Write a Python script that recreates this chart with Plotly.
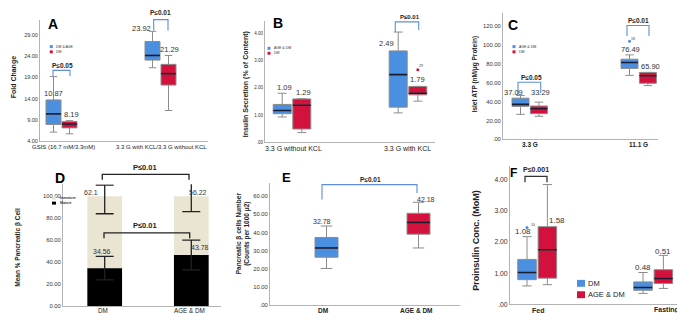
import plotly.graph_objects as go

W, H = 685, 313
FONT = "Arial, Liberation Sans, sans-serif"
BLUE = "#4A8FE0"
RED = "#D3113D"
BEIGE = "#EAE4D3"
BRK_BLUE = "#5E8FD8"
EDGE = "#8c8c8c"
MED = "#1b1b2f"
TXT = "#333333"

# ---------------- data (box stats: lower whisker, Q1, median, Q3, upper whisker) ----------------
# A: Fold change
A_cats = ["GSIS (16.7 mM/3.3mM)", "3.3 G with KCL/3.3 G without KCL"]
A_dmage = [[6.1, 7.9, 10.4, 13.7, 19.2], [21.3, 23.1, 24.2, 27.5, 29.9]]
A_dm = [[5.7, 7.1, 8.0, 8.6, 8.8], [11.2, 17.2, 19.9, 22.1, 24.2]]
A_dmage_lab = ["10.87", "23.92"]
A_dm_lab = ["8.19", "21.29"]

# B: Insulin secretion
B_cats = ["3.3 G without KCL", "3.3 G with KCL"]
B_agedm = [[0.93, 1.05, 1.17, 1.39, 1.80], [1.08, 1.29, 2.48, 3.35, 4.04]]
B_dm = [[0.36, 0.49, 1.36, 1.59, 1.60], [1.51, 1.74, 1.80, 2.05, 2.05]]
B_agedm_lab = ["1.09", "2.49"]
B_dm_lab = ["1.29", "1.79"]
B_outlier = 2.66
B_outlier_id = "29"

# C: Islet ATP
C_cats = ["3.3 G", "11.1 G"]
C_agedm = [[26.6, 35.0, 37.1, 43.7, 46.6], [67.9, 75.2, 81.5, 85.0, 89.6]]
C_dm = [[24.5, 27.3, 32.5, 35.4, 39.5], [57.0, 59.5, 67.5, 71.0, 71.0]]
C_agedm_lab = ["37.09", "76.49"]
C_dm_lab = ["33.29", "65.90"]
C_outlier = 103.9
C_outlier_id = "18"

# D: Mean % pancreatic beta cell
D_cats = ["DM", "AGE & DM"]
D_total = [100, 100]
D_mature = [34.5, 46.5]
D_mature_err = [10.7, 13.5]
D_imm_top = [97.0, 99.0]
D_imm_err = [13.0, 13.0]
D_imm_lab = ["62.1", "56.22"]
D_mat_lab = ["34.56", "43.78"]

# E: beta cell number
E_cats = ["DM", "AGE & DM"]
E_dm = [20.2, 26.4, 31.5, 37.3, 43.6]
E_agedm = [31.5, 39.1, 45.6, 50.6, 56.7]
E_lab = ["32.78", "42.18"]

# F: Proinsulin
F_cats = ["Fed", "Fasting"]
F_dm = [[0.59, 0.79, 1.02, 1.44, 2.17], [0.35, 0.45, 0.54, 0.72, 1.02]]
F_agedm = [[0.63, 0.84, 1.75, 2.49, 3.84], [0.51, 0.67, 0.83, 1.11, 1.57]]
F_dm_lab = ["1.08", "0.48"]
F_agedm_lab = ["1.58", "0.51"]
F_outlier = 2.46
F_outlier_id = "10"

# ---------------- layout geometry (pixels) ----------------
GEO = {
    "A": dict(xs=(32, 200), ys=(12, 134.3), yr=(4, 32.6), cat=(21.5, 120.5), off=8.0, bw=15),
    "B": dict(xs=(257, 427), ys=(12.7, 135.7), yr=(0, 4.46), cat=(27, 143), off=9.8, bw=18),
    "C": dict(xs=(495, 650), ys=(5, 132.7), yr=(0, 134), cat=(26.7, 135.7), off=9.2, bw=17),
    "D": dict(xs=(55, 213), ys=(178, 301), yr=(0, 110.8), cat=(41.7, 128.3), off=0, bw=34.7),
    "E": dict(xs=(262, 452), ys=(176.7, 300), yr=(0, 67.3), cat=(56.5, 148.5), off=0, bw=23),
    "F": dict(xs=(502, 672), ys=(160, 299.2), yr=(0, 4.42), cat=(27.2, 143.2), off=10.2, bw=18.5),
}
AX = {"A": ("x", "y"), "B": ("x2", "y2"), "C": ("x3", "y3"),
      "D": ("x4", "y4"), "E": ("x5", "y5"), "F": ("x6", "y6")}

fig = go.Figure()


def add_boxes(panel, stats, positions, color):
    g = GEO[panel]
    xa, ya = AX[panel]
    lf, q1, med, q3, uf = zip(*stats)
    fig.add_trace(go.Box(x=list(positions), lowerfence=list(lf), q1=list(q1), median=list(med),
                         q3=list(q3), upperfence=list(uf), width=g["bw"], fillcolor=color,
                         line=dict(color=EDGE, width=1), whiskerwidth=0.5, boxpoints=False,
                         xaxis=xa, yaxis=ya, hoverinfo="skip", showlegend=False))
    xs, ys = [], []
    for p, m in zip(positions, med):
        xs += [p - g["bw"] / 2, p + g["bw"] / 2, None]
        ys += [m, m, None]
    fig.add_trace(go.Scatter(x=xs, y=ys, mode="lines", line=dict(color=MED, width=1.6),
                             xaxis=xa, yaxis=ya, hoverinfo="skip", showlegend=False))


def left(panel):
    g = GEO[panel]
    return [c - g["off"] for c in g["cat"]]


def right(panel):
    g = GEO[panel]
    return [c + g["off"] for c in g["cat"]]


def add_outlier(panel, xpos, val, color):
    xa, ya = AX[panel]
    fig.add_trace(go.Scatter(x=[xpos], y=[val], mode="markers",
                             marker=dict(color=color, size=3), xaxis=xa, yaxis=ya,
                             hoverinfo="skip", showlegend=False))


add_boxes("A", A_dmage, left("A"), BLUE)
add_boxes("A", A_dm, right("A"), RED)
add_boxes("B", B_agedm, left("B"), BLUE)
add_boxes("B", B_dm, right("B"), RED)
add_outlier("B", right("B")[1], B_outlier, RED)
add_boxes("C", C_agedm, left("C"), BLUE)
add_boxes("C", C_dm, right("C"), RED)
add_outlier("C", left("C")[1], C_outlier, BLUE)
add_boxes("E", [E_dm], [GEO["E"]["cat"][0]], BLUE)
add_boxes("E", [E_agedm], [GEO["E"]["cat"][1]], RED)
add_boxes("F", F_dm, left("F"), BLUE)
add_boxes("F", F_agedm, right("F"), RED)
add_outlier("F", left("F")[0], F_outlier, BLUE)

# D stacked-look bars
fig.add_trace(go.Bar(x=list(GEO["D"]["cat"]), y=D_total, width=GEO["D"]["bw"], marker=dict(color=BEIGE, line=dict(width=0)),
                     xaxis="x4", yaxis="y4", hoverinfo="skip", showlegend=False))
fig.add_trace(go.Bar(x=list(GEO["D"]["cat"]), y=D_mature, width=GEO["D"]["bw"], marker=dict(color="black", line=dict(width=0)),
                     xaxis="x4", yaxis="y4", hoverinfo="skip", showlegend=False))
for yv, ev in ((D_imm_top, D_imm_err), (D_mature, D_mature_err)):
    fig.add_trace(go.Scatter(x=list(GEO["D"]["cat"]), y=yv, mode="markers",
                             marker=dict(color="rgba(0,0,0,0)", size=1),
                             error_y=dict(type="data", array=ev, color="#222", thickness=1.3, width=9),
                             xaxis="x4", yaxis="y4", hoverinfo="skip", showlegend=False))

# ---------------- axes ----------------
YTICKS = {
    "A": ([4, 9, 14, 19, 24, 29], ["4.00", "9.00", "14.00", "19.00", "24.00", "29.00"], 5.5),
    "B": ([0, 1, 2, 3, 4], [".00", "1.00", "2.00", "3.00", "4.00"], 4.5),
    "C": ([0, 20, 40, 60, 80, 100, 120], [".00", "20.00", "40.00", "60.00", "80.00", "100.00", "120.00"], 5.8),
    "D": ([0, 20, 40, 60, 80, 100], ["0.00", "20.00", "40.00", "60.00", "80.00", "100.00"], 5.8),
    "E": ([0, 10, 20, 30, 40, 50, 60], [".00", "10.00", "20.00", "30.00", "40.00", "50.00", "60.00"], 5.8),
    "F": ([0, 1, 2, 3, 4], [".00", "1.00", "2.00", "3.00", "4.00"], 6.8),
}
# category label text positions (pixels), size, bold
XLAB = {
    "A": (A_cats, [(55, 140), (153, 140)], 6, False),
    "B": (B_cats, [(285, 142.3), (400, 142.3)], 7, False),
    "C": (C_cats, [(521.7, 138), (630, 138)], 6.5, True),
    "D": (D_cats, [(95, 305.3), (181.7, 305.3)], 6.3, False),
    "E": (E_cats, [(315, 305.3), (408.3, 305.3)], 6.5, True),
    "F": (F_cats, [(530, 305), (658.3, 305)], 7, True),
}

layout_axes = {}
for p, (xa, ya) in AX.items():
    g = GEO[p]
    xkey = "xaxis" if xa == "x" else "xaxis" + xa[1:]
    ykey = "yaxis" if ya == "y" else "yaxis" + ya[1:]
    layout_axes[xkey] = dict(
        domain=[g["xs"][0] / W, g["xs"][1] / W], range=[0, g["xs"][1] - g["xs"][0]],
        anchor=ya, showline=True, linecolor="#b3b3b3", linewidth=1, ticks="",
        showgrid=False, zeroline=False, showticklabels=False, fixedrange=True)
    tv, tt, yfs = YTICKS[p]
    layout_axes[ykey] = dict(
        domain=[1 - g["ys"][1] / H, 1 - g["ys"][0] / H], range=list(g["yr"]),
        anchor=xa, showline=True, linecolor="#b3b3b3", linewidth=1, ticks="",
        showgrid=False, zeroline=False, tickvals=tv, ticktext=tt,
        tickfont=dict(size=yfs, color="#333", family=FONT), fixedrange=True)

# ---------------- annotations & shapes (pixel positions) ----------------
anns = []
shapes = []


def txt(x, y, s, size=7, bold=False, color=TXT, angle=0, xanchor="center"):
    anns.append(dict(x=x / W, y=1 - y / H, xref="paper", yref="paper", text=("<b>%s</b>" % s) if bold else s,
                     showarrow=False, xanchor=xanchor, yanchor="middle", textangle=angle,
                     font=dict(size=size, color=color, family=FONT)))


def bracket(x0, x1, ytop, yl, yr, color, w=1.1):
    path = "M %f,%f L %f,%f L %f,%f L %f,%f" % (x0 / W, 1 - yl / H, x0 / W, 1 - ytop / H,
                                                x1 / W, 1 - ytop / H, x1 / W, 1 - yr / H)
    shapes.append(dict(type="path", path=path, xref="paper", yref="paper",
                       line=dict(color=color, width=w)))


def square(x0, y0, x1, y1, color):
    shapes.append(dict(type="rect", x0=x0 / W, x1=x1 / W, y0=1 - y1 / H, y1=1 - y0 / H,
                       xref="paper", yref="paper", fillcolor=color, line=dict(width=0)))


# category labels
for p, (cats, pos, fs, bold) in XLAB.items():
    for c, (x, y) in zip(cats, pos):
        txt(x, y, c, fs, bold, "#222")

# panel letters
for L, (x, y, s) in {"A": (45, 16, 14), "B": (270, 15, 14), "C": (505, 17, 14),
                     "D": (52, 172, 14), "E": (278, 171, 13), "F": (505, 167, 12)}.items():
    txt(x, y, L, size=s, bold=True, color="black")

# axis titles
txt(6, 70, "Fold Change", 7, True, "#222", -90)
txt(238, 77, "Insulin Secretion (% of Content)", 7, True, "#222", -90)
txt(467, 67, "Islet ATP (nM/μg Protein)", 6.5, True, "#222", -90)
txt(10, 242, "Mean % Pancreatic β Cell", 6.5, True, "#222", -90)
txt(234.5, 228, "Pancreatic β cells Number<br>(Counts per 1000 μ2)", 6.5, True, "#222", -90)
txt(468, 235, "Proinsulin Conc. (MoM)", 9, True, "#222", -90)

# value labels
for s, (x, y) in zip(A_dmage_lab + A_dm_lab, [(45.5, 86), (133.7, 20.7), (64, 107.3), (161.7, 42.3)]):
    txt(x, y, s, 7.5)
for s, (x, y) in zip(B_agedm_lab + B_dm_lab, [(276.7, 80), (378, 36), (295.7, 85), (409, 71.7)]):
    txt(x, y, s, 7.5)
for s, (x, y) in zip(C_agedm_lab + C_dm_lab, [(505, 85), (622, 41.7), (532.5, 85), (642, 59.3)]):
    txt(x, y, s, 7.5)
for s, (x, y) in zip(D_imm_lab + D_mat_lab, [(82.7, 186.7), (190, 186.7), (94.3, 245.7), (191.7, 242.3)]):
    txt(x, y, s, 7)
for s, (x, y) in zip(E_lab, [(314.3, 216), (418.3, 193.3)]):
    txt(x, y, s, 7)
for s, (x, y) in zip(F_dm_lab + F_agedm_lab, [(515, 225.7), (635, 261.7), (549, 214.3), (655, 245.7)]):
    txt(x, y, s, 8)

# outlier ids
txt(413, 59, B_outlier_id, 3.5)
txt(625, 31, C_outlier_id, 3.5)
txt(525, 219, F_outlier_id, 3.5)

# brackets and p-values
bracket(45, 62, 63, 69, 69, BRK_BLUE)
txt(54, 58.5, "P≤0.05", 6.5, True, "#222")
bracket(145.7, 160, 11.7, 22.7, 22.7, BRK_BLUE)
txt(152.5, 5, "P≤0.01", 6.5, True, "#222")
bracket(387.3, 410.7, 14, 24.3, 22.3, BRK_BLUE)
txt(402, 9.5, "P≤0.01", 6, True, "#222")
bracket(510, 532.7, 75, 88.3, 85.7, BRK_BLUE)
txt(523.3, 70, "P≤0.05", 6.5, True, "#222")
bracket(619, 641, 17.7, 28.3, 28.3, BRK_BLUE)
txt(630.7, 12.3, "P≤0.01", 6.5, True, "#222")
bracket(94.3, 181, 168, 173.3, 173.3, "#222", 1.3)
txt(137.3, 160.7, "P≤0.01", 7.5, True, "#222")
bracket(96, 181.7, 227, 232.5, 232.5, "#222", 1.3)
txt(136.7, 220, "P≤0.01", 7.5, True, "#222")
bracket(314, 409, 178.3, 193.3, 186.7, BRK_BLUE)
txt(362, 173.5, "P≤0.01", 6.5, True, "#222")
bracket(517, 539, 170, 176, 176, "#333", 1.3)
txt(528, 163, "P≤0.001", 7, True, "#222")

# legends
square(41.8, 37.5, 44.8, 40.5, BLUE); txt(46, 39, "DM & AGE", 3.5, False, "#333", 0, "left")
square(41.8, 42.8, 44.8, 45.8, RED); txt(46, 44.3, "DM", 3.5, False, "#333", 0, "left")
square(259.5, 39.2, 262.5, 42.2, BLUE); txt(264, 40.7, "AGE & DM", 3.5, False, "#333", 0, "left")
square(259.5, 44.2, 262.5, 47.2, RED); txt(264, 45.7, "DM", 3.5, False, "#333", 0, "left")
square(504.5, 37.5, 507.5, 40.5, BLUE); txt(509, 39, "AGE & DM", 3.5, False, "#333", 0, "left")
square(504.5, 42.8, 507.5, 45.8, RED); txt(509, 44.3, "DM", 3.5, False, "#333", 0, "left")
square(44, 190.5, 48, 193.5, BEIGE); txt(50, 192, "Immature", 3.5, True, "#333", 0, "left")
square(44, 195.5, 48, 198.5, "black"); txt(50, 197, "Mature", 3.5, True, "#333", 0, "left")
square(569, 274.5, 577, 281.5, BLUE); txt(578, 278, "DM", 7.5, False, "#222", 0, "left")
square(569, 286, 577, 293, RED); txt(578, 289.5, "AGE & DM", 7.5, False, "#222", 0, "left")

fig.update_layout(
    width=W, height=H, margin=dict(l=0, r=0, t=0, b=0),
    paper_bgcolor="white", plot_bgcolor="white", showlegend=False,
    barmode="overlay", boxmode="overlay", font=dict(family=FONT),
    annotations=anns, shapes=shapes, **layout_axes)

fig.write_html("out.html", config={"displayModeBar": False})
